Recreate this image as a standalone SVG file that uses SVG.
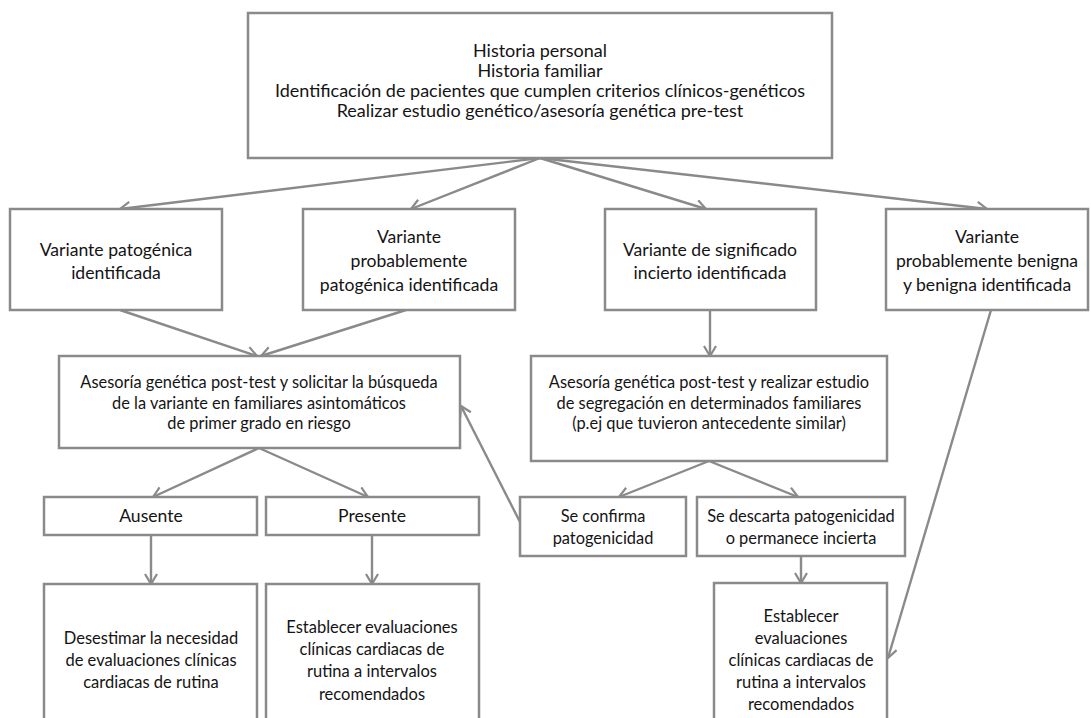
<svg xmlns="http://www.w3.org/2000/svg" width="1091" height="718" viewBox="0 0 1091 718">
<defs>
<marker id="arr" markerUnits="userSpaceOnUse" markerWidth="16" markerHeight="16" refX="11" refY="7" orient="auto">
<path d="M1,1 L11,7 L1,13" fill="none" stroke="#8a8a8a" stroke-width="2.2"/>
</marker>
<style>
.box{fill:#fff;stroke:#8a8a8a;stroke-width:2.5}
.con{fill:none;stroke:#8a8a8a;stroke-width:2.4;marker-end:url(#arr)}
text{font-family:Lato,"Liberation Sans",sans-serif;fill:#141414;text-anchor:middle}
.t18{font-size:18px}
.t17{font-size:17.6px}
.t16{font-size:16.4px}
.t165{font-size:16.5px}
</style>
</defs>
<rect width="1091" height="718" fill="#fff"/>

<g id="connectors">
<line class="con" x1="540" y1="158" x2="120" y2="209"/>
<line class="con" x1="540" y1="158" x2="411" y2="209"/>
<line class="con" x1="540" y1="158" x2="706" y2="209"/>
<line class="con" x1="540" y1="158" x2="987" y2="209"/>
<line class="con" x1="120" y1="310" x2="257" y2="356"/>
<line class="con" x1="406" y1="310" x2="261" y2="356"/>
<line class="con" x1="710" y1="310" x2="710" y2="356"/>
<line class="con" x1="991" y1="310" x2="888" y2="658"/>
<line class="con" x1="259" y1="448" x2="153" y2="497"/>
<line class="con" x1="259" y1="448" x2="368" y2="497"/>
<line class="con" x1="151" y1="535" x2="151" y2="584"/>
<line class="con" x1="372" y1="535" x2="372" y2="584"/>
<line class="con" x1="709" y1="461" x2="619" y2="497"/>
<line class="con" x1="709" y1="461" x2="798" y2="497"/>
<line class="con" x1="801" y1="556" x2="801" y2="583"/>
<line class="con" x1="520" y1="522" x2="461" y2="406"/>
</g>

<g id="n-top">
<rect class="box" x="248" y="13" width="584" height="145"/>
<text class="t18" x="540" y="57">Historia personal</text>
<text class="t18" x="540" y="77">Historia familiar</text>
<text class="t18" x="540" y="97">Identificación de pacientes que cumplen criterios clínicos-genéticos</text>
<text class="t18" x="540" y="117">Realizar estudio genético/asesoría genética pre-test</text>
</g>

<g id="n-pat">
<rect class="box" x="10" y="209" width="212" height="101"/>
<text class="t17" x="116" y="256">Variante patogénica</text>
<text class="t17" x="116" y="279">identificada</text>
</g>

<g id="n-probpat">
<rect class="box" x="303" y="209" width="212" height="101"/>
<text class="t17" x="409" y="243">Variante</text>
<text class="t17" x="409" y="267">probablemente</text>
<text class="t17" x="409" y="291">patogénica identificada</text>
</g>

<g id="n-vus">
<rect class="box" x="605" y="209" width="211" height="101"/>
<text class="t17" x="710" y="256">Variante de significado</text>
<text class="t17" x="710" y="279">incierto identificada</text>
</g>

<g id="n-benign">
<rect class="box" x="886" y="209" width="202" height="101"/>
<text class="t17" x="987" y="243">Variante</text>
<text class="t17" x="987" y="267">probablemente benigna</text>
<text class="t17" x="987" y="291">y benigna identificada</text>
</g>

<g id="n-asesoria1">
<rect class="box" x="59" y="356" width="401" height="92"/>
<text class="t16" x="259" y="388">Asesoría genética post-test y solicitar la búsqueda</text>
<text class="t16" x="259" y="409">de la variante en familiares asintomáticos</text>
<text class="t16" x="259" y="429">de primer grado en riesgo</text>
</g>

<g id="n-asesoria2">
<rect class="box" x="531" y="356" width="356" height="105"/>
<text class="t16" x="709" y="388">Asesoría genética post-test y realizar estudio</text>
<text class="t16" x="709" y="409">de segregación en determinados familiares</text>
<text class="t16" x="709" y="429">(p.ej que tuvieron antecedente similar)</text>
</g>

<g id="n-ausente">
<rect class="box" x="44" y="497" width="213" height="38"/>
<text class="t17" x="151" y="522">Ausente</text>
</g>

<g id="n-presente">
<rect class="box" x="266" y="497" width="213" height="38"/>
<text class="t17" x="372" y="522">Presente</text>
</g>

<g id="n-confirma">
<rect class="box" x="520" y="497" width="166" height="59"/>
<text class="t16" x="603" y="522">Se confirma</text>
<text class="t16" x="603" y="544">patogenicidad</text>
</g>

<g id="n-descarta">
<rect class="box" x="697" y="497" width="208" height="59"/>
<text class="t16" x="801" y="522">Se descarta patogenicidad</text>
<text class="t16" x="801" y="544">o permanece incierta</text>
</g>

<g id="n-desestimar">
<rect class="box" x="44" y="584" width="213" height="150"/>
<text class="t165" x="151" y="644">Desestimar la necesidad</text>
<text class="t165" x="151" y="666">de evaluaciones clínicas</text>
<text class="t165" x="151" y="688">cardiacas de rutina</text>
</g>

<g id="n-establecer1">
<rect class="box" x="266" y="584" width="213" height="150"/>
<text class="t165" x="372" y="633">Establecer evaluaciones</text>
<text class="t165" x="372" y="655">clínicas cardiacas de</text>
<text class="t165" x="372" y="677">rutina a intervalos</text>
<text class="t165" x="372" y="700">recomendados</text>
</g>

<g id="n-establecer2">
<rect class="box" x="714" y="583" width="173" height="150"/>
<text class="t165" x="801" y="622">Establecer</text>
<text class="t165" x="801" y="644">evaluaciones</text>
<text class="t165" x="801" y="666">clínicas cardiacas de</text>
<text class="t165" x="801" y="688">rutina a intervalos</text>
<text class="t165" x="801" y="710">recomendados</text>
</g>
</svg>
